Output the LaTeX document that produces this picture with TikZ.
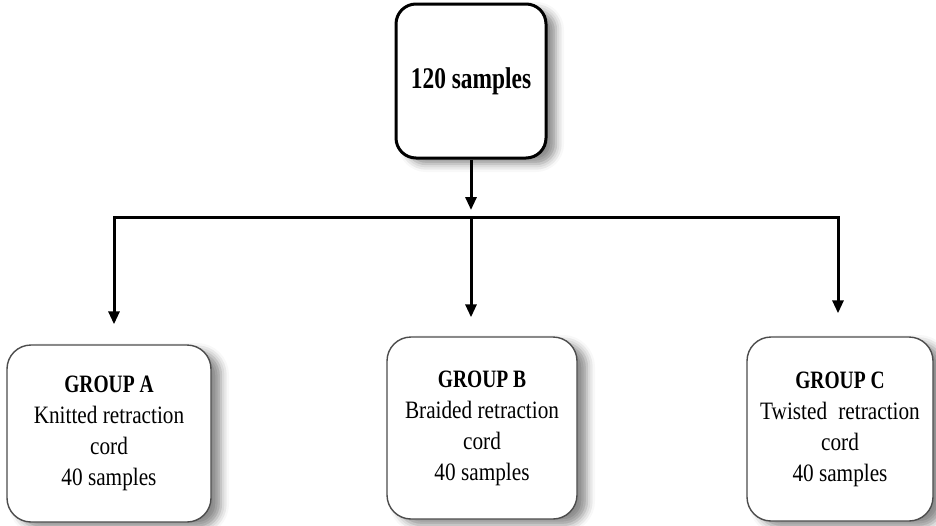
\documentclass[tikz,border=0pt]{standalone}
\usepackage{fontspec}
\setmainfont{Liberation Serif}[FakeStretch=0.85]
\newfontfamily\boldcond{Liberation Serif}[FakeStretch=0.78]
\usetikzlibrary{arrows.meta,shadows.blur}
\begin{document}
\begin{tikzpicture}[x=1pt,y=-1pt,
  softshadow/.style={blur shadow={shadow xshift=10pt,shadow yshift=-6pt,shadow blur radius=8pt,shadow opacity=45}},
  topbox/.style={draw=black,line width=3pt,rounded corners=20pt,fill=white,
    minimum width=150pt,minimum height=154pt,inner sep=0pt,softshadow},
  groupbox/.style={draw=black!70,line width=1.4pt,rounded corners=24pt,fill=white,
    inner sep=0pt,align=center,font=\fontsize{25}{31}\selectfont,softshadow},
  link/.style={line width=3pt,draw=black},
  arr/.style={link,-{Triangle[length=13pt,width=11pt]}}]
\useasboundingbox (0,0) rectangle (936,525);

\node[topbox] (top) at (471,81) {\boldcond\bfseries\fontsize{30}{36}\selectfont 120 samples};

\node[groupbox,minimum width=204pt,minimum height=177pt] (A) at (109,433.5)
  {{\boldcond\bfseries GROUP A}\\Knitted retraction\\cord\\40 samples};
\node[groupbox,minimum width=190pt,minimum height=182pt] (B) at (482,428)
  {{\boldcond\bfseries GROUP B}\\Braided retraction\\cord\\40 samples};
\node[groupbox,minimum width=186pt,minimum height=184pt] (C) at (840,429)
  {{\boldcond\bfseries GROUP C}\\Twisted\hspace{0.45em}retraction\\cord\\40 samples};

\coordinate (j) at (471,217);
\coordinate (hl) at (114,217);
\coordinate (hr) at (838,217);

\draw[arr,shorten >=7pt] (top.south) -- (j);
\draw[arr,shorten >=20pt] (j) -- (hl) -- (hl |- A.north);
\draw[arr,shorten >=19pt] (j) -- (j |- B.north);
\draw[arr,shorten >=23pt] (j) -- (hr) -- (hr |- C.north);
\end{tikzpicture}
\end{document}
